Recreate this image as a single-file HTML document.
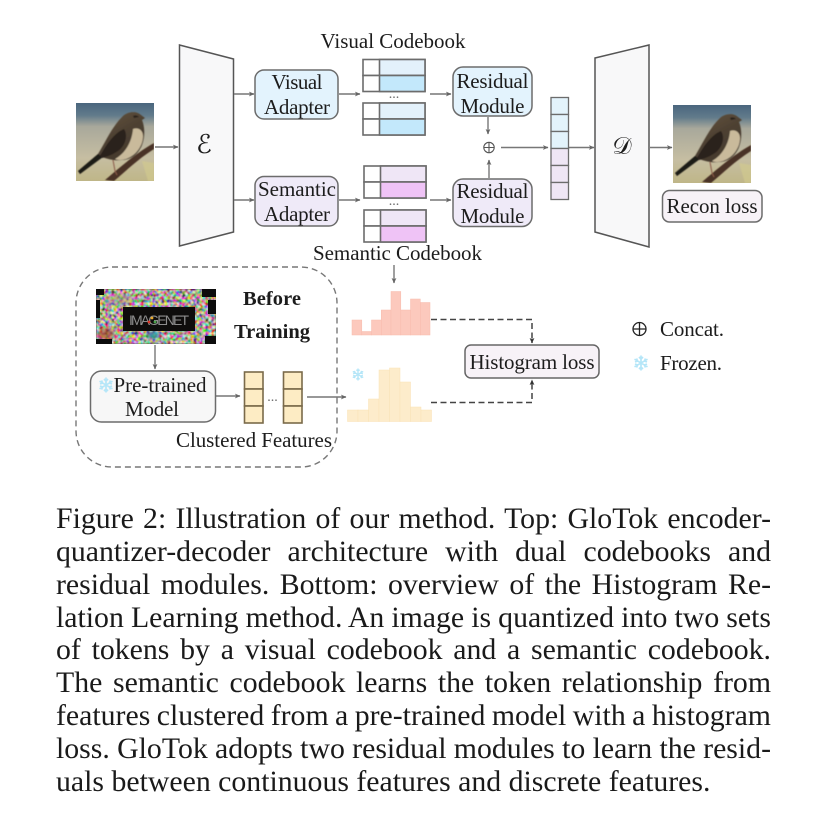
<!DOCTYPE html>
<html><head><meta charset="utf-8"><style>
html,body{margin:0;padding:0;background:#fff;width:826px;height:829px;overflow:hidden}
svg{position:absolute;left:0;top:0;filter:blur(.35px)}
text{font-family:"Liberation Serif",serif;fill:#1c1c1c;font-size:21px}
.m{text-anchor:middle}
.cap{position:absolute;left:56px;width:715px;font:29.8px/33px "Liberation Serif",serif;color:#1a1a1a;text-align:justify;text-align-last:justify;white-space:nowrap;word-spacing:-3.5px;filter:blur(.3px)}
.ln{fill:none;stroke:#777;stroke-width:1.4}
.box{stroke:#6c6c6c;stroke-width:1.5}
.cell{stroke:#6c6c6c;stroke-width:1.6}
.d{fill:none;stroke:#444;stroke-width:1.5;stroke-dasharray:6 3.5}
</style></head><body>
<svg width="826" height="829" viewBox="0 0 826 829">
<defs>
<marker id="a" markerWidth="7" markerHeight="7" refX="5" refY="3" orient="auto" markerUnits="userSpaceOnUse"><path d="M0,.6 L5.5,3 L0,5.4 L1.2,3z" fill="#666"/></marker>
<marker id="b" markerWidth="7" markerHeight="7" refX="5" refY="3" orient="auto" markerUnits="userSpaceOnUse"><path d="M0,.6 L5.5,3 L0,5.4 L1.2,3z" fill="#333"/></marker>
<linearGradient id="sky" x1="0" y1="0" x2="0" y2="1"><stop offset="0" stop-color="#4a667e"/><stop offset=".16" stop-color="#627b8b"/><stop offset=".3" stop-color="#a8a89b"/><stop offset=".7" stop-color="#c6bea2"/><stop offset="1" stop-color="#bfb688"/></linearGradient>
<linearGradient id="body" x1="0" y1="0" x2=".6" y2="1"><stop offset="0" stop-color="#6e5a46"/><stop offset=".5" stop-color="#4f4233"/><stop offset="1" stop-color="#3e342a"/></linearGradient>
<filter id="soft"><feGaussianBlur stdDeviation=".6"/></filter>
<filter id="soft2"><feGaussianBlur stdDeviation="1.6"/></filter>
<filter id="noise" x="0" y="0" width="100%" height="100%"><feTurbulence type="fractalNoise" baseFrequency=".34" numOctaves="2" seed="7"/><feColorMatrix values="3 0 0 0 -1.08  0 2.8 0 0 -1.03  0 0 2.6 0 -.98  0 0 0 0 1"/><feGaussianBlur stdDeviation=".45"/></filter>
<clipPath id="bc"><rect width="78" height="78"/></clipPath>
<g id="bird" clip-path="url(#bc)">
<rect width="78" height="78" fill="url(#sky)"/>
<g filter="url(#soft)">
<path d="M66,58 L72,78 L78,78 L78,60z" fill="#d3cc8e" opacity=".6"/>
<path d="M78,40 C60,50 42,66 29,77 L38,78 C50,68 62,56 78,46z" fill="#4a3325"/>
<path d="M2,68 L22,51 C30,38 36,24 46,14 C50,9 60,7 65,12 L69,15 L66,17 C69,24 69,34 66,42 C62,52 54,57 46,57 C38,58 32,56 26,54 L4,71z" fill="url(#body)"/>
<path d="M2,68 L22,51 L27,54 L4,71z" fill="#1f1b17"/>
<path d="M24,53 C30,42 38,30 48,26 C52,32 50,42 42,48 C36,52 30,54 26,55z" fill="#2a231e"/>
<path d="M57,26 C62,24 67,27 67,33 C67,42 61,52 50,56 C45,57.5 41,57 39,56 C50,50 56,38 57,26z" fill="#c9ba9b"/>
<path d="M57,13c2,-1 4,-1 6,1l-5,1z" fill="#2a241f"/>
<path d="M37,57 L39,68 L41,72" stroke="#8a5a48" stroke-width="1" fill="none"/>
</g>
</g>
<g id="flake" fill="none" stroke="#b5e6f8" stroke-width="1.7"><path d="M0,-7.5V7.5M-6.5,-3.8L6.5,3.8M-6.5,3.8L6.5,-3.8M-2,-6L0,-4L2,-6M-2,6L0,4L2,6M-6,-1L-3.5,-2L-4.5,-4.5M6,1L3.5,2L4.5,4.5M-6,1L-3.5,2L-4.5,4.5M6,-1L3.5,-2L4.5,-4.5"/></g>
</defs>

<!-- bird images -->
<use href="#bird" x="76" y="103"/>
<use href="#bird" x="673" y="105"/>

<!-- encoder / decoder -->
<path d="M179.5,45 L233.5,59 V232 L179.5,246z" fill="#f8f8f9" stroke="#555" stroke-width="1.5"/>
<path d="M595,58 L649,45 V247 L595,232z" fill="#f8f8f9" stroke="#555" stroke-width="1.5"/>
<text x="204" y="153" style="font:26px 'DejaVu Serif',serif" class="m">ℰ</text>
<text x="622" y="154" style="font:24px 'DejaVu Serif',serif" class="m">𝒟</text>

<!-- adapters -->
<rect x="255" y="70" width="83" height="49" rx="9" fill="#e3f3fd" class="box"/>
<rect x="255" y="176.5" width="83" height="49.5" rx="9" fill="#efeaf8" class="box"/>
<text x="297" y="89" class="m" textLength="51">Visual</text>
<text x="297" y="114" class="m" textLength="66">Adapter</text>
<text x="297" y="196" class="m" textLength="78">Semantic</text>
<text x="297" y="221" class="m" textLength="66">Adapter</text>

<!-- codebooks -->
<g class="cell">
<rect x="363" y="59.5" width="62" height="16" fill="#fff"/><rect x="379.5" y="59.5" width="45.5" height="16" fill="#e3f1fb"/>
<rect x="363" y="75.5" width="62" height="16" fill="#fff"/><rect x="379.5" y="75.5" width="45.5" height="16" fill="#c3e8fb"/>
<rect x="363" y="103" width="62" height="16" fill="#fff"/><rect x="379.5" y="103" width="45.5" height="16" fill="#e3f1fb"/>
<rect x="363" y="119" width="62" height="16" fill="#fff"/><rect x="379.5" y="119" width="45.5" height="16" fill="#c3e8fb"/>
<rect x="364" y="166" width="62" height="16" fill="#fff"/><rect x="380.5" y="166" width="45.5" height="16" fill="#efe6f6"/>
<rect x="364" y="182" width="62" height="16" fill="#fff"/><rect x="380.5" y="182" width="45.5" height="16" fill="#efc3f6"/>
<rect x="364" y="210" width="62" height="16" fill="#fff"/><rect x="380.5" y="210" width="45.5" height="16" fill="#efe6f6"/>
<rect x="364" y="226" width="62" height="16" fill="#fff"/><rect x="380.5" y="226" width="45.5" height="16" fill="#efc3f6"/>
</g>
<text x="394" y="98" class="m" style="font-size:14px;fill:#666">...</text>
<text x="394" y="205" class="m" style="font-size:14px;fill:#666">...</text>
<text x="393" y="48" class="m" textLength="145" style="font-size:21px">Visual Codebook</text>
<text x="397.5" y="260" class="m" textLength="169" style="font-size:21px">Semantic Codebook</text>

<!-- residual -->
<rect x="453" y="67" width="79" height="49" rx="10" fill="#e3f3fd" class="box"/>
<rect x="453" y="179" width="79" height="47.5" rx="10" fill="#efeaf8" class="box"/>
<text x="492.5" y="88" class="m" textLength="72">Residual</text>
<text x="492.5" y="113" class="m" textLength="64">Module</text>
<text x="492.5" y="198" class="m" textLength="72">Residual</text>
<text x="492.5" y="223" class="m" textLength="64">Module</text>

<!-- plus -->
<g fill="none" stroke="#555" stroke-width="1.1"><circle cx="489" cy="147.5" r="5.2"/><path d="M483.8,147.5H494.2M489,142.3V152.7"/></g>

<!-- token column -->
<g class="cell" style="stroke-width:1.3">
<rect x="551" y="97.5" width="17.5" height="17" fill="#e3f3fb"/>
<rect x="551" y="114.5" width="17.5" height="17" fill="#e3f3fb"/>
<rect x="551" y="131.5" width="17.5" height="17" fill="#e3f3fb"/>
<rect x="551" y="148.5" width="17.5" height="17" fill="#efe6f5"/>
<rect x="551" y="165.5" width="17.5" height="17" fill="#efe6f5"/>
<rect x="551" y="182.5" width="17.5" height="17" fill="#efe6f5"/>
</g>

<!-- arrows -->
<g class="ln">
<path d="M155,147H178" marker-end="url(#a)"/>
<path d="M234,94H254" marker-end="url(#a)"/>
<path d="M234,200H254" marker-end="url(#a)"/>
<path d="M339,94H360" marker-end="url(#a)"/>
<path d="M339,200H360" marker-end="url(#a)"/>
<path d="M430,94H451" marker-end="url(#a)"/>
<path d="M430,200H451" marker-end="url(#a)"/>
<path d="M488,117V134" marker-end="url(#a)"/>
<path d="M489,178V160" marker-end="url(#a)"/>
<path d="M501,147.5H548" marker-end="url(#a)"/>
<path d="M569,147.5H594" marker-end="url(#a)"/>
<path d="M650,147.5H672" marker-end="url(#a)"/>
<path d="M155,345V369" marker-end="url(#a)"/>
<path d="M216,396H240" marker-end="url(#a)"/>
<path d="M307,397H346" marker-end="url(#a)"/>
<path d="M394,265V283" marker-end="url(#a)"/>
</g>

<!-- recon -->
<rect x="662.5" y="190.5" width="99.5" height="31.5" rx="7" fill="#f7f2f7" class="box"/>
<text x="712" y="213" class="m" textLength="91">Recon loss</text>

<!-- before training panel -->
<rect x="76" y="267" width="261" height="200" rx="36" fill="none" stroke="#777" stroke-width="1.4" stroke-dasharray="6 4"/>
<rect x="96" y="289" width="120" height="55" fill="#222"/>
<rect x="96" y="289" width="120" height="55" filter="url(#noise)"/>
<g filter="url(#soft2)"><ellipse cx="106" cy="334" rx="8" ry="6" fill="#a8482a" opacity=".7"/><ellipse cx="153" cy="335" rx="6" ry="4" fill="#2c8ea0" opacity=".8"/><ellipse cx="120" cy="300" rx="14" ry="6" fill="#a89a80" opacity=".5"/></g>
<g fill="#0c0c0c"><rect x="96" y="289" width="8" height="6"/><rect x="96" y="339" width="16" height="5"/><rect x="202" y="289" width="14" height="8"/><rect x="208" y="300" width="8" height="14"/><rect x="205" y="336" width="11" height="8"/><rect x="96" y="300" width="4" height="18"/></g>
<rect x="123" y="307" width="72" height="24" fill="#0e0d0c"/>
<text x="159" y="325" class="m" textLength="60" style="font:14px 'Liberation Sans',sans-serif;fill:#8d8d8d">IMAGENET</text>
<g><circle cx="149" cy="322" r="1.4" fill="#e0392a"/><circle cx="152" cy="318" r="1.4" fill="#e8a92a"/><circle cx="155" cy="322" r="1.4" fill="#4aa34a"/></g>
<text x="272" y="305" class="m" textLength="58" style="font-weight:bold;font-size:20.5px">Before</text>
<text x="272" y="338" class="m" textLength="76" style="font-weight:bold;font-size:20.5px">Training</text>

<rect x="90.5" y="371" width="125" height="51" rx="11" fill="#f7f7f7" class="box"/>
<use href="#flake" x="106" y="385"/>
<text x="160" y="392" class="m" textLength="93">Pre-trained</text>
<text x="152" y="416" class="m" textLength="54">Model</text>

<g stroke="#7a6a4a" stroke-width="1.6" fill="#fdecc4">
<rect x="244.5" y="372" width="18.5" height="17"/><rect x="244.5" y="389" width="18.5" height="17"/><rect x="244.5" y="406" width="18.5" height="17"/>
<rect x="283.5" y="372" width="18.5" height="17"/><rect x="283.5" y="389" width="18.5" height="17"/><rect x="283.5" y="406" width="18.5" height="17"/>
</g>
<text x="272.5" y="401" class="m" style="font-size:14px;fill:#666">...</text>
<text x="254" y="447" class="m" textLength="156" style="font-size:21px">Clustered Features</text>

<!-- histograms -->
<g fill="#fcc9bd" stroke="#f8bbad" stroke-width=".5">
<rect x="352" y="320" width="9.8" height="15"/>
<rect x="361.8" y="331.5" width="9.8" height="3.5"/>
<rect x="371.5" y="320" width="9.8" height="15"/>
<rect x="381.3" y="310" width="9.8" height="25"/>
<rect x="391" y="291.5" width="9.8" height="43.5"/>
<rect x="400.8" y="310" width="9.8" height="25"/>
<rect x="410.5" y="299" width="9.8" height="36"/>
<rect x="420.3" y="302.5" width="9.7" height="32.5"/>
</g>
<g fill="#fdeccb" stroke="#f9e1b5" stroke-width=".5">
<rect x="347.5" y="410" width="10.5" height="11.5"/>
<rect x="358" y="410" width="10.5" height="11.5"/>
<rect x="368.5" y="399" width="10.5" height="22.5"/>
<rect x="379" y="370" width="10.5" height="51.5"/>
<rect x="389.5" y="368" width="10.5" height="53.5"/>
<rect x="400" y="382" width="10.5" height="39.5"/>
<rect x="410.5" y="407" width="10.5" height="14.5"/>
<rect x="421" y="410" width="10.5" height="11.5"/>
</g>
<use href="#flake" transform="translate(358,374.5) scale(.8)"/>

<!-- histogram loss -->
<rect x="465" y="345" width="134" height="33" rx="6" fill="#f7f2f7" stroke="#666" stroke-width="1.5"/>
<text x="532" y="369" class="m" textLength="125">Histogram loss</text>
<path d="M431,319.5H532V343" class="d" marker-end="url(#b)"/>
<path d="M431,402.5H532V380" class="d" marker-end="url(#b)"/>

<!-- legend -->
<g fill="none" stroke="#222" stroke-width="1.3"><circle cx="639.5" cy="329" r="6.5"/><path d="M633,329H646M639.5,322.5V335.5"/></g>
<text x="660" y="336" textLength="64">Concat.</text>
<use href="#flake" x="641" y="363"/>
<text x="660" y="370" textLength="62">Frozen.</text>
</svg>

<div class="cap" style="top:502px">Figure 2: Illustration of our method. Top: GloTok encoder-</div>
<div class="cap" style="top:535px">quantizer-decoder architecture with dual codebooks and</div>
<div class="cap" style="top:567.5px">residual modules. Bottom: overview of the Histogram Re-</div>
<div class="cap" style="top:600.5px">lation Learning method. An image is quantized into two sets</div>
<div class="cap" style="top:633px">of tokens by a visual codebook and a semantic codebook.</div>
<div class="cap" style="top:666px">The semantic codebook learns the token relationship from</div>
<div class="cap" style="top:699px">features clustered from a pre-trained model with a histogram</div>
<div class="cap" style="top:732px">loss. GloTok adopts two residual modules to learn the resid-</div>
<div class="cap" style="top:764.5px;text-align-last:left;word-spacing:0">uals between continuous features and discrete features.</div>
</body></html>
